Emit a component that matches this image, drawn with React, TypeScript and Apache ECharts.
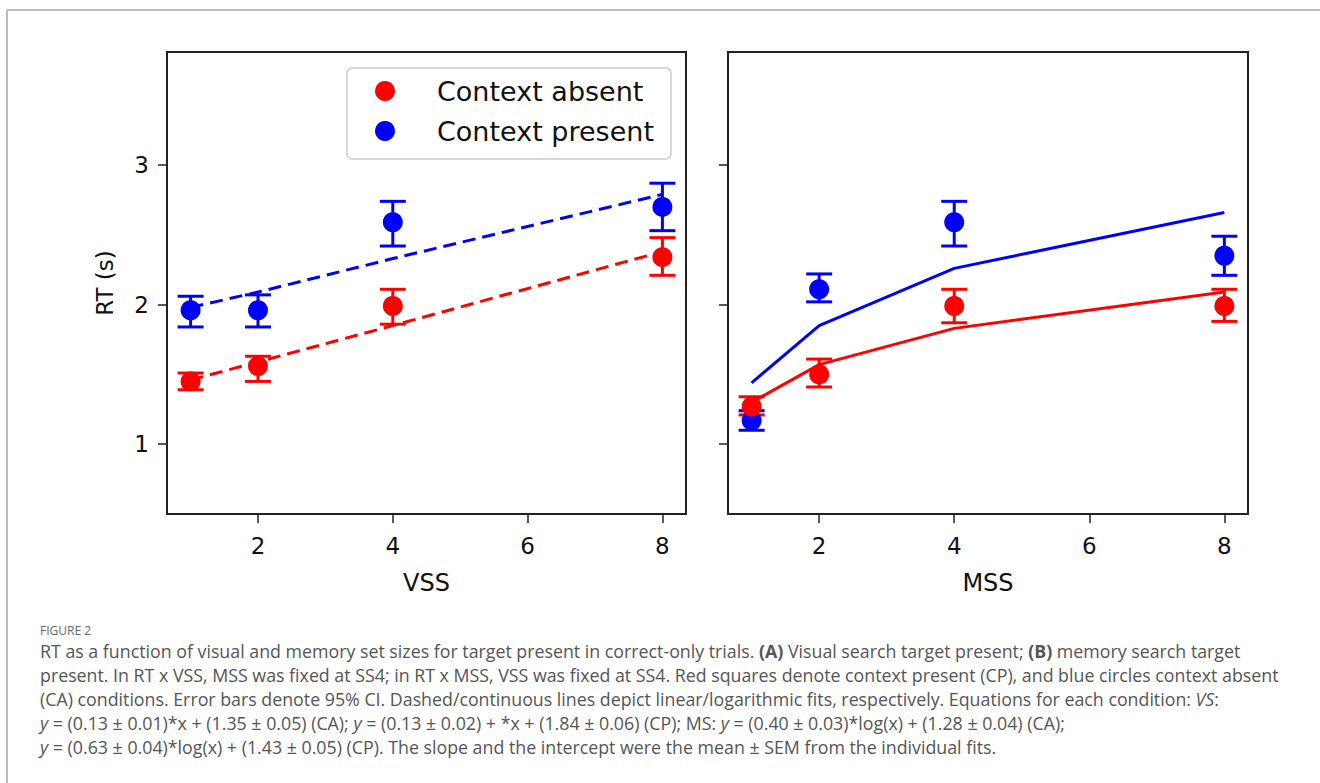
import React, { useEffect, useRef } from "react";
import * as echarts from "echarts";

// ---- data ----
const setSizes = [1, 2, 4, 8];
const xTicks = [2, 4, 6, 8];
const yTicks = [1, 2, 3];

// Left panel (VSS)
const vssAbsentMean = [1.45, 1.56, 1.99, 2.34];
const vssAbsentLow = [1.39, 1.45, 1.86, 2.21];
const vssAbsentHigh = [1.51, 1.63, 2.11, 2.48];
const vssPresentMean = [1.96, 1.96, 2.59, 2.7];
const vssPresentLow = [1.84, 1.84, 2.42, 2.53];
const vssPresentHigh = [2.06, 2.07, 2.74, 2.87];
const vssAbsentFit = [1.46, 1.59, 1.85, 2.38];
const vssPresentFit = [1.98, 2.09, 2.33, 2.79];

// Right panel (MSS)
const mssAbsentMean = [1.27, 1.5, 1.99, 1.99];
const mssAbsentLow = [1.21, 1.41, 1.87, 1.88];
const mssAbsentHigh = [1.34, 1.61, 2.11, 2.11];
const mssPresentMean = [1.17, 2.11, 2.59, 2.35];
const mssPresentLow = [1.1, 2.02, 2.42, 2.21];
const mssPresentHigh = [1.24, 2.22, 2.74, 2.49];
const mssAbsentFit = [1.3, 1.57, 1.83, 2.09];
const mssPresentFit = [1.44, 1.85, 2.26, 2.66];

const seriesNames = ["Context absent", "Context present"];
const xAxisTitles = ["VSS", "MSS"];
const yAxisTitle = "RT (s)";

const captionTitle = "FIGURE 2";
const captionLines = [
  "RT as a function of visual and memory set sizes for target present in correct-only trials. {b|(A)} Visual search target present; {b|(B)} memory search target",
  "present. In RT x VSS, MSS was fixed at SS4; in RT x MSS, VSS was fixed at SS4. Red squares denote context present (CP), and blue circles context absent",
  "(CA) conditions. Error bars denote 95% CI. Dashed/continuous lines depict linear/logarithmic fits, respectively. Equations for each condition: {i|VS}:",
  "{i|y} = (0.13 ± 0.01)*x + (1.35 ± 0.05) (CA); {i|y} = (0.13 ± 0.02) + *x + (1.84 ± 0.06) (CP); MS: {i|y} = (0.40 ± 0.03)*log(x) + (1.28 ± 0.04) (CA);",
  "{i|y} = (0.63 ± 0.04)*log(x) + (1.43 ± 0.05) (CP). The slope and the intercept were the mean ± SEM from the individual fits.",
];

const RED = "#ff0000";
const BLUE = "#0000ff";
const FONT = "DejaVu Sans";
const CAP_FONT = "Open Sans";
const CAP_SIZE = 17.8;

const zip = (xs: number[], ys: number[]) => xs.map((x, i) => [x, ys[i]]);
const zip3 = (xs: number[], a: number[], b: number[]) => xs.map((x, i) => [x, a[i], b[i]]);

function errorSeries(idx: number, color: string, data: number[][]) {
  return {
    type: "custom",
    xAxisIndex: idx,
    yAxisIndex: idx,
    encode: { x: 0, y: [1, 2] },
    data,
    silent: true,
    z: 3,
    renderItem: (params: any, api: any) => {
      const x = api.value(0);
      const lo = api.value(1);
      const hi = api.value(2);
      const top = api.coord([x, hi]);
      const bot = api.coord([x, lo]);
      const hw = 13;
      const style = { stroke: color, lineWidth: 3 };
      return {
        type: "group",
        children: [
          { type: "line", shape: { x1: top[0], y1: top[1], x2: bot[0], y2: bot[1] }, style },
          { type: "line", shape: { x1: top[0] - hw, y1: top[1], x2: top[0] + hw, y2: top[1] }, style },
          { type: "line", shape: { x1: bot[0] - hw, y1: bot[1], x2: bot[0] + hw, y2: bot[1] }, style },
        ],
      };
    },
  };
}

function fitSeries(idx: number, name: string, color: string, data: number[][], dashed: boolean) {
  return {
    type: "line",
    name,
    xAxisIndex: idx,
    yAxisIndex: idx,
    data,
    showSymbol: false,
    symbol: "none",
    silent: true,
    z: 2,
    lineStyle: { color, width: 3, type: dashed ? [13, 7] : "solid" },
  };
}

function scatterSeries(idx: number, name: string, color: string, data: number[][]) {
  return {
    type: "scatter",
    name,
    xAxisIndex: idx,
    yAxisIndex: idx,
    data,
    symbol: "circle",
    symbolSize: 20,
    z: 4,
    itemStyle: { color, opacity: 1 },
  };
}

function xAxisCfg(idx: number, title: string) {
  return {
    type: "value",
    gridIndex: idx,
    min: 0.65,
    max: 8.35,
    name: title,
    nameLocation: "middle",
    nameGap: 57,
    nameTextStyle: { fontFamily: FONT, fontSize: 24, color: "#111" },
    axisLine: { show: true, onZero: false, lineStyle: { color: "#222", width: 2 } },
    axisTick: { show: true, length: 9, customValues: xTicks, lineStyle: { color: "#222", width: 1.5 } },
    axisLabel: { show: true, customValues: xTicks, margin: 20, fontFamily: FONT, fontSize: 23, color: "#111" },
    splitLine: { show: false },
  };
}

function yAxisCfg(idx: number, showLabels: boolean) {
  return {
    type: "value",
    gridIndex: idx,
    min: 0.5,
    max: 3.81,
    name: showLabels ? yAxisTitle : "",
    nameLocation: "middle",
    nameRotate: 90,
    nameGap: 51,
    nameTextStyle: { fontFamily: FONT, fontSize: 23, color: "#111" },
    axisLine: { show: true, onZero: false, lineStyle: { color: "#222", width: 2 } },
    axisTick: { show: true, length: 9, customValues: yTicks, lineStyle: { color: "#222", width: 1.5 } },
    axisLabel: { show: showLabels, customValues: yTicks, margin: 18, fontFamily: FONT, fontSize: 23, color: "#111" },
    splitLine: { show: false },
  };
}

export default function App() {
  const ref = useRef<HTMLDivElement>(null);

  useEffect(() => {
    document.body.style.margin = "0";
    if (!ref.current) return;
    const chart = echarts.init(ref.current, null, { renderer: "svg" });

    const captionRich = {
      b: { fontWeight: "bold", fontFamily: CAP_FONT, fontSize: CAP_SIZE, fill: "#555" },
      i: { fontStyle: "italic", fontFamily: CAP_FONT, fontSize: CAP_SIZE, fill: "#555" },
    };

    const graphics: any[] = [
      { type: "line", shape: { x1: 7, y1: 10, x2: 1320, y2: 10 }, style: { stroke: "#bbb", lineWidth: 2 }, silent: true },
      { type: "line", shape: { x1: 7, y1: 10, x2: 7, y2: 783 }, style: { stroke: "#bbb", lineWidth: 2 }, silent: true },
      {
        type: "text",
        left: 40,
        top: 624,
        style: { text: captionTitle, fontFamily: CAP_FONT, fontSize: 12, fill: "#666" },
      },
      ...captionLines.map((line, i) => ({
        type: "text",
        left: 40,
        top: 642 + i * 24,
        style: { text: line, fontFamily: CAP_FONT, fontSize: CAP_SIZE, fill: "#555", rich: captionRich },
      })),
    ];

    const option: any = {
      animation: false,
      backgroundColor: "#fff",
      grid: [
        { left: 167, top: 52, width: 519, height: 462, show: true, borderColor: "#222", borderWidth: 2, backgroundColor: "transparent" },
        { left: 728, top: 52, width: 520, height: 462, show: true, borderColor: "#222", borderWidth: 2, backgroundColor: "transparent" },
      ],
      xAxis: [xAxisCfg(0, xAxisTitles[0]), xAxisCfg(1, xAxisTitles[1])],
      yAxis: [yAxisCfg(0, true), yAxisCfg(1, false)],
      legend: {
        show: true,
        orient: "vertical",
        left: 347,
        top: 68,
        data: seriesNames.map((n) => ({ name: n, icon: "circle" })),
        itemWidth: 20,
        itemHeight: 20,
        itemGap: 12,
        padding: [9, 17, 14, 28],
        borderColor: "#ccc",
        borderWidth: 1.5,
        borderRadius: 5,
        backgroundColor: "#fff",
        selectedMode: false,
        textStyle: { fontFamily: FONT, fontSize: 27, color: "#111", padding: [0, 0, 0, 37], lineHeight: 28 },
      },
      series: [
        fitSeries(0, "vss-absent-fit", RED, zip(setSizes, vssAbsentFit), true),
        fitSeries(0, "vss-present-fit", BLUE, zip(setSizes, vssPresentFit), true),
        errorSeries(0, RED, zip3(setSizes, vssAbsentLow, vssAbsentHigh)),
        errorSeries(0, BLUE, zip3(setSizes, vssPresentLow, vssPresentHigh)),
        scatterSeries(0, seriesNames[0], RED, zip(setSizes, vssAbsentMean)),
        scatterSeries(0, seriesNames[1], BLUE, zip(setSizes, vssPresentMean)),
        fitSeries(1, "mss-absent-fit", RED, zip(setSizes, mssAbsentFit), false),
        fitSeries(1, "mss-present-fit", BLUE, zip(setSizes, mssPresentFit), false),
        errorSeries(1, BLUE, zip3(setSizes, mssPresentLow, mssPresentHigh)),
        errorSeries(1, RED, zip3(setSizes, mssAbsentLow, mssAbsentHigh)),
        scatterSeries(1, seriesNames[1], BLUE, zip(setSizes, mssPresentMean)),
        scatterSeries(1, seriesNames[0], RED, zip(setSizes, mssAbsentMean)),
      ],
      graphic: graphics,
    };

    chart.setOption(option);
    return () => chart.dispose();
  }, []);

  return <div ref={ref} style={{ width: 1320, height: 783 }} />;
}
